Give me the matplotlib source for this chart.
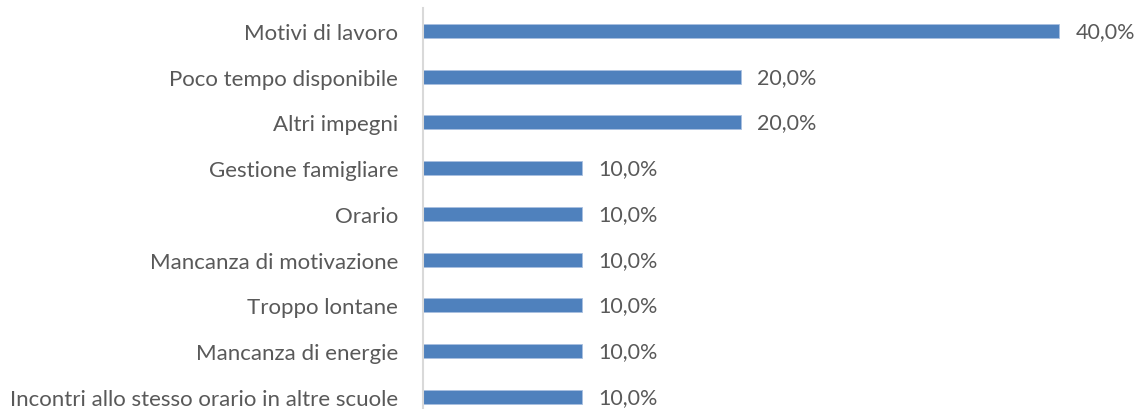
import matplotlib.pyplot as plt

categories = [
    "Motivi di lavoro",
    "Poco tempo disponibile",
    "Altri impegni",
    "Gestione famigliare",
    "Orario",
    "Mancanza di motivazione",
    "Troppo lontane",
    "Mancanza di energie",
    "Incontri allo stesso orario in altre scuole",
]
values = [40.0, 20.0, 20.0, 10.0, 10.0, 10.0, 10.0, 10.0, 10.0]

plt.rcParams['font.family'] = ['Lato', 'DejaVu Sans']
text_col = '#595959'
bar_col = '#4f81bd'

W, H = 1141, 410
fig = plt.figure(figsize=(W / 100, H / 100), dpi=100)
# axes placed in pixel coords: x from 422.5, category band top at 9 px
left = 422.5 / W
top = 9 / H
band = 45.75
n = len(categories)
height = band * n / H
width = 45 * 15.91 / W
ax = fig.add_axes([left, 1 - top - height, width, height])

ypos = list(range(n))
ax.barh(ypos, values, height=0.306, color=bar_col, edgecolor='#a9c0e0', linewidth=0.6)
ax.set_ylim(n - 0.5, -0.5)
ax.set_xlim(0, 45)

ax.set_yticks(ypos)
ax.set_yticklabels(categories, color=text_col, fontsize=16)
ax.tick_params(axis='y', length=0, pad=17.5)
ax.set_xticks([])

for s in ['top', 'right', 'bottom']:
    ax.spines[s].set_visible(False)
ax.spines['left'].set_color('#d9d9d9')
ax.spines['left'].set_linewidth(1.5)

for y, v in zip(ypos, values):
    ax.annotate(f"{v:.1f}%".replace('.', ','), (v, y), xytext=(12, 0),
                textcoords='offset points', va='center', ha='left',
                color=text_col, fontsize=15.5)

fig.savefig('out.png', dpi=100)
